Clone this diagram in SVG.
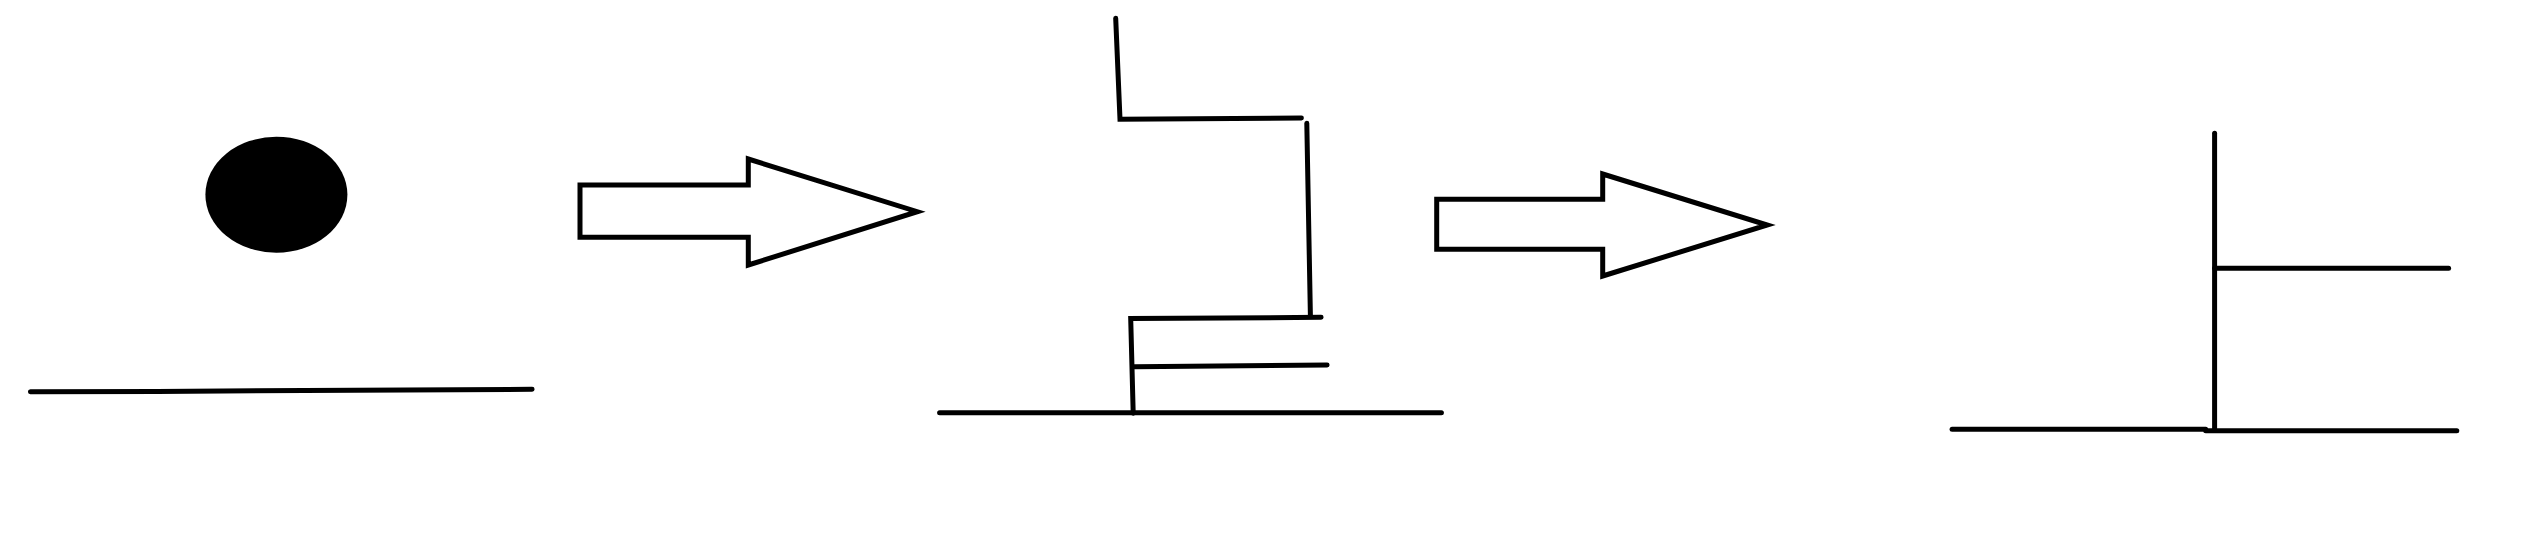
<svg xmlns="http://www.w3.org/2000/svg" width="2547" height="555" viewBox="0 0 2547 555">
<style>
.s{fill:none;stroke:#000;stroke-width:5;stroke-linecap:round;stroke-linejoin:miter}
.a{fill:#fff;stroke:#000;stroke-width:5;stroke-linejoin:miter}
</style>
<rect width="2547" height="555" fill="#fff"/>
<g id="stage1">
<ellipse cx="276.4" cy="194.7" rx="71" ry="58" fill="#000"/>
<polyline class="s" points="30.4,391.7 157.1,391.4 405.4,390 532.1,389.3"/>
</g>
<g id="connectors">
<polygon class="a" points="580,185 748.3,185 748.3,159 917.3,211.7 748.3,265 748.3,237.3 580,237.3"/>
<polygon class="a" points="1436.7,199.3 1602.7,199.3 1602.7,174 1767.3,225 1602.7,276 1602.7,249.3 1436.7,249.3"/>
</g>
<g id="stage2">
<polyline class="s" points="1115.7,18.3 1120,119.3 1301.4,118"/>
<line class="s" x1="1306.8" y1="123.3" x2="1310.4" y2="316"/>
<polyline class="s" points="1321.1,317.3 1130.7,318.6 1133.2,413.3"/>
<line class="s" x1="1134.3" y1="366.7" x2="1327.1" y2="365"/>
<line class="s" x1="939.6" y1="412.7" x2="1441.4" y2="412.7"/>
</g>
<g id="stage3">
<line class="s" x1="2214.6" y1="133.3" x2="2214.6" y2="430"/>
<line class="s" x1="2214.6" y1="268.3" x2="2448.6" y2="268.3"/>
<line class="s" x1="1952.1" y1="429.3" x2="2205.7" y2="429.3"/>
<line class="s" x1="2205.7" y1="430.7" x2="2456.8" y2="430.7"/>
</g>
</svg>
